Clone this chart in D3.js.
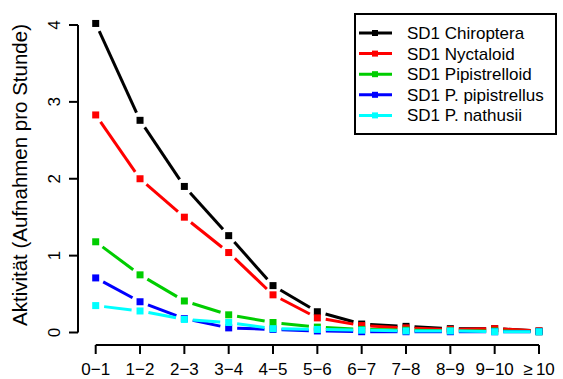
<!DOCTYPE html>
<html><head><meta charset="utf-8">
<script src="https://cdn.jsdelivr.net/npm/d3@7"></script>
<style>body{margin:0;background:#fff}svg{display:block}text{font-family:"Liberation Sans",Arial,sans-serif}</style>
</head><body><div id="c"></div>
<script>
const categories = ["0\u22121","1\u22122","2\u22123","3\u22124","4\u22125","5\u22126","6\u22127","7\u22128","8\u22129","9\u221210","\u2265\u200910"];
const chiroptera = [4.02, 2.76, 1.90, 1.26, 0.61, 0.27, 0.11, 0.08, 0.05, 0.05, 0.02];
const nyctaloid = [2.83, 2.00, 1.50, 1.04, 0.49, 0.19, 0.09, 0.06, 0.04, 0.05, 0.02];
const pipistrelloid = [1.18, 0.75, 0.41, 0.23, 0.13, 0.07, 0.04, 0.03, 0.02, 0.02, 0.01];
const pipistrellus = [0.71, 0.40, 0.18, 0.06, 0.04, 0.02, 0.01, 0.01, 0.01, 0.01, 0.01];
const nathusii = [0.35, 0.28, 0.17, 0.13, 0.05, 0.04, 0.03, 0.02, 0.02, 0.01, 0.01];
const seriesNames = ["SD1 Chiroptera","SD1 Nyctaloid","SD1 Pipistrelloid","SD1 P. pipistrellus","SD1 P. nathusii"];
const seriesColors = ["#000000","#ff0000","#00cd00","#0000ff","#00ffff"];
const yTicks = [0,1,2,3,4];
const yTitle = "Aktivität (Aufnahmen pro Stunde)";

const series = [chiroptera, nyctaloid, pipistrelloid, pipistrellus, nathusii];
const W = 563, H = 379;
const svg = d3.select("#c").append("svg").attr("width", W).attr("height", H);

const x = d3.scalePoint().domain(categories).range([95.7, 539]);
const y = d3.scaleLinear().domain([0, 4]).range([332.5, 25]);

// y axis
const gy = svg.append("g").attr("transform", "translate(78,0)");
gy.append("line").attr("y1", y(0)).attr("y2", y(4)).attr("stroke", "#000").attr("stroke-width", 2);
yTicks.forEach(t => {
  gy.append("line").attr("x1", -9).attr("x2", 0).attr("y1", y(t)).attr("y2", y(t)).attr("stroke", "#000").attr("stroke-width", 2);
  gy.append("text").attr("transform", `translate(-18,${y(t)}) rotate(-90)`).attr("text-anchor", "middle")
    .attr("font-size", 17).text(t);
});
svg.append("text").attr("transform", `translate(27,${(20+330)/2}) rotate(-90)`).attr("text-anchor", "middle")
  .attr("font-size", 20.5).text(yTitle);

// x axis
const gx = svg.append("g").attr("transform", "translate(0,345)");
gx.append("line").attr("x1", x(categories[0])).attr("x2", x(categories[categories.length-1])).attr("stroke", "#000").attr("stroke-width", 2);
categories.forEach(c => {
  gx.append("line").attr("x1", x(c)).attr("x2", x(c)).attr("y1", 0).attr("y2", 9).attr("stroke", "#000").attr("stroke-width", 2);
  gx.append("text").attr("x", x(c)).attr("y", 30).attr("text-anchor", "middle").attr("font-size", 17).text(c);
});

// series (type="b": lines with gaps around points)
const gap = 8.5;
series.forEach((vals, si) => {
  const g = svg.append("g");
  const pts = vals.map((v, i) => [x(categories[i]), y(v)]);
  for (let i = 0; i < pts.length - 1; i++) {
    const [x1, y1] = pts[i], [x2, y2] = pts[i+1];
    const dx = x2 - x1, dy = y2 - y1, L = Math.hypot(dx, dy);
    if (L <= 2 * gap) continue;
    const ux = dx / L, uy = dy / L;
    g.append("line").attr("x1", x1 + ux*gap).attr("y1", y1 + uy*gap).attr("x2", x2 - ux*gap).attr("y2", y2 - uy*gap)
      .attr("stroke", seriesColors[si]).attr("stroke-width", 3);
  }
  pts.forEach(p => g.append("rect").attr("x", p[0]-3.5).attr("y", p[1]-3.5).attr("width", 7).attr("height", 7).attr("fill", seriesColors[si]));
});

// legend
const lg = svg.append("g");
lg.append("rect").attr("x", 355).attr("y", 14).attr("width", 201).attr("height", 120).attr("fill", "#fff").attr("stroke", "#000").attr("stroke-width", 2);
seriesNames.forEach((n, i) => {
  const yy = 33 + i * 20.6;
  lg.append("line").attr("x1", 359).attr("x2", 392).attr("y1", yy).attr("y2", yy).attr("stroke", seriesColors[i]).attr("stroke-width", 3);
  lg.append("rect").attr("x", 372).attr("y", yy-3).attr("width", 6).attr("height", 6).attr("fill", seriesColors[i]);
  lg.append("text").attr("x", 407).attr("y", yy + 6).attr("font-size", 17).text(n);
});
</script></body></html>
